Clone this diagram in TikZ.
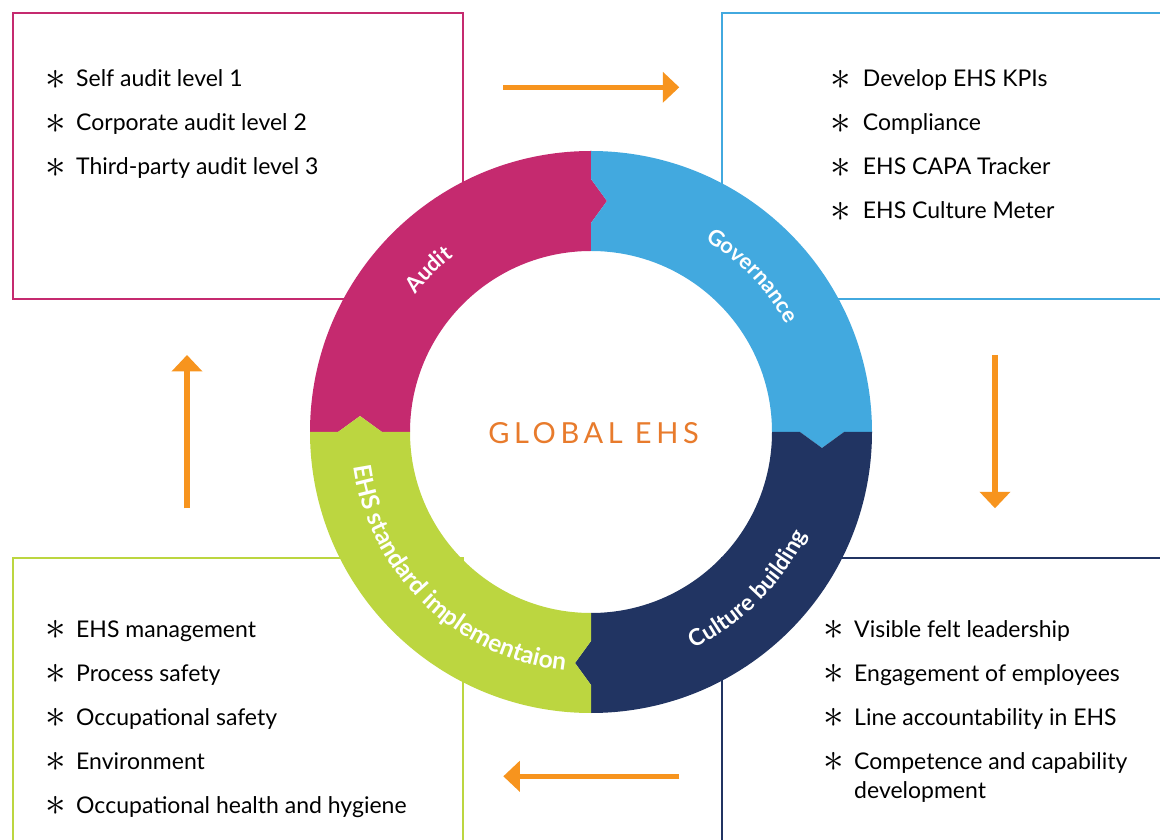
\documentclass[tikz,border=0pt]{standalone}
\usepackage{fontspec}
\usepackage{graphicx}
\setmainfont{Lato}
\usetikzlibrary{arrows.meta,decorations.text}
\definecolor{cAudit}{HTML}{C52A6F}
\definecolor{cGov}{HTML}{42A9DF}
\definecolor{cCult}{HTML}{213462}
\definecolor{cEhs}{HTML}{BCD640}
\definecolor{cArrow}{HTML}{F7941E}
\definecolor{cTitle}{HTML}{E87B2C}
\newcommand{\ringfont}[1]{\fontsize{#1}{#1}\selectfont\bfseries\color{white}}
\newcommand{\myitem}[5]{%
  \node[staritem] (#1s) at (#2,#4+7) {\scalebox{1.65}{$\ast$}};
  \node[itemtxt] (#1) at (#3,#4) {#5};}
\tikzset{
  boxline/.style={line width=2pt},
  flow/.style={draw=cArrow, line width=5.5pt, -{Triangle[length=16.5pt,width=30pt]}},
  itemtxt/.style={anchor=base west, inner sep=0pt, font=\fontsize{23}{27}\selectfont, text=black},
  staritem/.style={anchor=center, inner sep=0pt, font=\fontsize{30}{30}\selectfont, text=black},
  ringlabel/.style={decorate, decoration={text along path, text align=center}},
}
\begin{document}
\begin{tikzpicture}[x=1pt,y=1pt]
\clip (0,0) rectangle (1160,839);
\fill[white] (0,0) rectangle (1160,839);
% boxes
\draw[boxline, cAudit] (13,825.5) rectangle (463,539.5);
\draw[boxline, cGov] (722,825.5) rectangle (1200,539.5);
\draw[boxline, cEhs] (13,280.7) rectangle (463,-50);
\draw[boxline, cCult] (722,280.7) rectangle (1200,-50);
% ring
\begin{scope}[shift={(591,407)}]
\fill[cAudit] (180:281) arc[start angle=180,end angle=90,radius=281] -- (0,253) -- (16,231) -- (0,209) -- (0,181)
  arc[start angle=90,end angle=180,radius=181] -- (-209,0) -- (-231,16) -- (-253,0) -- cycle;
\fill[cGov] (90:281) arc[start angle=90,end angle=0,radius=281] -- (253,0) -- (231,-16) -- (209,0) -- (181,0)
  arc[start angle=0,end angle=90,radius=181] -- (0,209) -- (16,231) -- (0,253) -- cycle;
\fill[cCult] (0:281) arc[start angle=0,end angle=-90,radius=281] -- (0,-253) -- (-16,-231) -- (0,-209) -- (0,-181)
  arc[start angle=-90,end angle=0,radius=181] -- (209,0) -- (231,-16) -- (253,0) -- cycle;
\fill[cEhs] (-90:281) arc[start angle=-90,end angle=-180,radius=281] -- (-253,0) -- (-231,16) -- (-209,0) -- (-181,0)
  arc[start angle=180,end angle=270,radius=181] -- (0,-209) -- (-16,-231) -- (0,-253) -- cycle;
% ring labels
\path[ringlabel, decoration={text={|\ringfont{22}|Audit}}] (175:223) arc[start angle=175,end angle=95,radius=223];
\path[ringlabel, decoration={text={|\ringfont{22}|Governance}}] (84:223) arc[start angle=84,end angle=4,radius=223];
\path[ringlabel, decoration={text={|\ringfont{23}|Culture building}}] (-85:239) arc[start angle=-85,end angle=-5,radius=239];
\path[ringlabel, decoration={text={|\ringfont{24.5}|EHS standard implementaion}}] (166:240) arc[start angle=166,end angle=286,radius=240];
\end{scope}
\node[font=\fontsize{29}{29}\selectfont\addfontfeature{LetterSpace=16}, text=cTitle, anchor=base, inner sep=0pt] (title) at (593.5,395.7) {GLOBAL EHS};
% arrows
\coordinate (t1) at (503,751.7); \coordinate (t2) at (679.3,751.7);
\coordinate (r1) at (995,484); \coordinate (r2) at (995,330.7);
\coordinate (b1) at (679.3,62.7); \coordinate (b2) at (503.3,62.7);
\coordinate (l1) at (187,330.7); \coordinate (l2) at (187,484);
\draw[flow] (t1) -- (t2);
\draw[flow] (r1) -- (r2);
\draw[flow] (b1) -- (b2);
\draw[flow] (l1) -- (l2);
% lists
\myitem{a1}{55.5}{76}{752}{Self audit level 1}
\myitem{a2}{55.5}{76}{708}{Corporate audit level 2}
\myitem{a3}{55.5}{76}{664}{Third-party audit level 3}
\myitem{g1}{840.5}{862.7}{752}{Develop EHS KPIs}
\myitem{g2}{840.5}{862.7}{708}{Compliance}
\myitem{g3}{840.5}{862.7}{664}{EHS CAPA Tracker}
\myitem{g4}{840.5}{862.7}{620}{EHS Culture Meter}
\myitem{c1}{834}{854}{201.7}{Visible felt leadership}
\myitem{c2}{834}{854}{158}{Engagement of employees}
\myitem{c3}{834}{854}{114}{Line accountability in EHS}
\myitem{c4}{834}{854}{69.7}{Competence and capability}
\node[itemtxt] (c4b) at (854,40.7) {development};
\myitem{e1}{55.5}{76}{201.7}{EHS management}
\myitem{e2}{55.5}{76}{158}{Process safety}
\myitem{e3}{55.5}{76}{114}{Occupational safety}
\myitem{e4}{55.5}{76}{69.7}{Environment}
\myitem{e5}{55.5}{76}{25.7}{Occupational health and hygiene}
\end{tikzpicture}
\end{document}
